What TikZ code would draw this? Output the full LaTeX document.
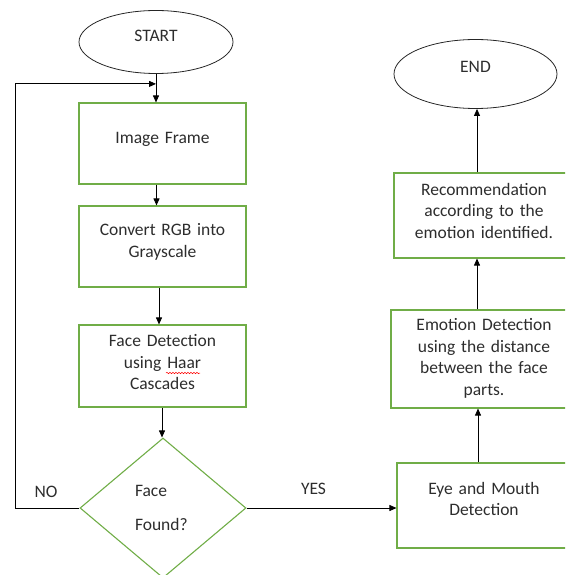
\documentclass[tikz,border=0pt]{standalone}
\usepackage{fontspec}
\setmainfont{Carlito}
\usepackage{tikz}
\usetikzlibrary{arrows.meta, shapes, shapes.geometric, positioning, calc, decorations.pathmorphing}
\definecolor{BoxGreen}{RGB}{112,173,71}
\definecolor{LineGray}{RGB}{38,38,38}
\definecolor{TextGray}{RGB}{45,45,45}

\begin{document}
\begin{tikzpicture}[x=1pt, y=-1pt,
    every node/.style={font=\fontsize{17.5}{21.5}\selectfont, text=TextGray},
    terminal/.style={shape=ellipse, draw=LineGray, line width=0.8pt, inner sep=0pt},
    process/.style={shape=rectangle, draw=BoxGreen, line width=1.1pt, align=center, inner sep=0pt},
    decision/.style={shape=diamond, draw=BoxGreen, line width=1.1pt, align=left, inner sep=0pt},
    flow/.style={draw=black, line width=0.8pt, -{Triangle[length=7pt, width=6pt]}}]
    \clip (0,0) rectangle (565,575);
    % left column
    \node[terminal, minimum width=154pt, minimum height=63pt, text height=8pt, text depth=8pt] (start) at (156,42) {START};
    \node[process, minimum width=167pt, minimum height=81pt, text width=150pt, text height=29.5pt, text depth=30.5pt] (frame) at (162.5,143.5) {Image Frame};
    \node[process, minimum width=167pt, minimum height=81pt, text width=150pt, text height=19.2pt, text depth=40.8pt] (conv) at (162.5,246.5) {Convert RGB into\\Grayscale};
    \node[process, minimum width=167pt, minimum height=82pt, text width=150pt, text height=10.7pt, text depth=49.3pt] (facedet) at (162.5,366) {Face Detection\\using Haar\\Cascades};
    \node[decision, minimum width=166pt, minimum height=140pt, text width=56pt, text height=3.7pt, text depth=26.3pt] (decide) at (163,508) {Face\\[11.8pt]Found?};
    % right column
    \node[process, minimum width=174pt, minimum height=85pt, text width=160pt, text height=18.5pt, text depth=41.5pt] (eye) at (484,505.5) {Eye and Mouth\\Detection};
    \node[process, minimum width=186pt, minimum height=98pt, text width=170pt, text height=1.7pt, text depth=58.3pt] (emo) at (484,359) {Emotion Detection\\using the distance\\between the face\\parts.};
    \node[process, minimum width=180pt, minimum height=85pt, text width=170pt, text height=9.5pt, text depth=50.5pt] (rec) at (484,215.5) {Recommendation\\according to the\\emotion identified.};
    \node[terminal, minimum width=163pt, minimum height=69pt, text height=6.9pt, text depth=9.1pt] (stop) at (475.5,74) {END};
    % branch labels
    \node[anchor=base] (no) at (46,497) {NO};
    \node[anchor=base] (yes) at (313.5,494) {YES};
    \coordinate (loopin) at ([yshift=-10pt]start.south);
    \coordinate (loopx) at (15,0);
    % connectors
    \draw[flow] (start.south) -- (start.south |- frame.north);
    \draw[flow] ([xshift=-6pt]frame.south) -- ([xshift=-6pt]frame.south |- conv.north);
    \draw[flow] ([xshift=-3.5pt]conv.south) -- ([xshift=-3.5pt]conv.south |- facedet.north);
    \draw[flow] ([xshift=-0.5pt]facedet.south) -- ([xshift=-0.5pt]facedet.south |- decide.north);
    \draw[flow] (decide.west) -- (decide.west -| loopx) |- (loopin);
    \draw[flow] (decide.east) -- (decide.east -| eye.west);
    \draw[flow] ([xshift=-6pt]eye.north) -- ([xshift=-6pt]eye.north |- emo.south);
    \draw[flow] ([xshift=-7pt]emo.north) -- ([xshift=-7pt]emo.north |- rec.south);
    \draw[flow] ([xshift=-7pt]rec.north) -- ([xshift=-7pt]rec.north |- stop.south);
    % spell-check mark
    \draw[red, line width=0.5pt, decorate, decoration={snake, amplitude=0.7pt, segment length=3pt}] (166,373) -- (200,373);
\end{tikzpicture}
\end{document}
